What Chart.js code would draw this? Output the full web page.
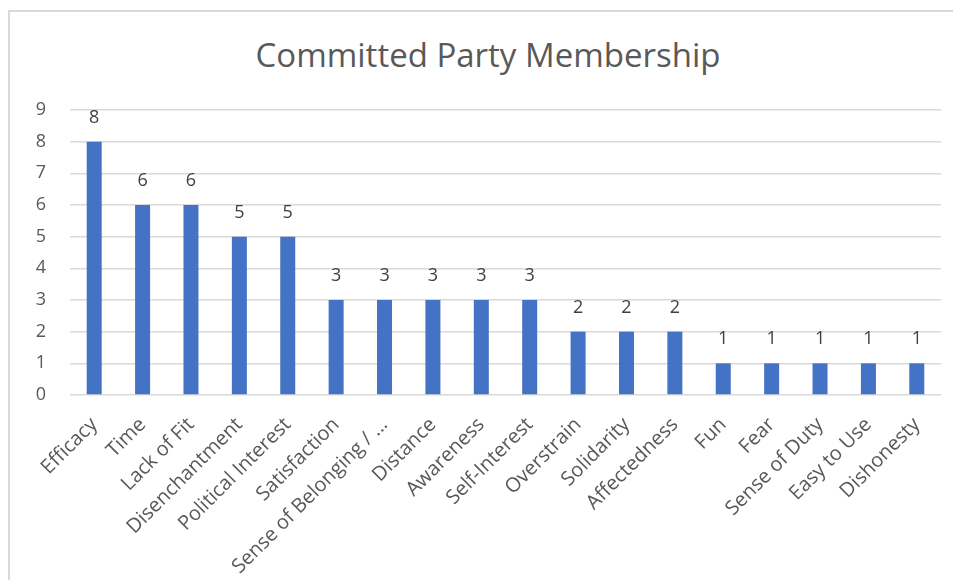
<!DOCTYPE html>
<html>
<head>
<meta charset="utf-8">
<script src="https://cdn.jsdelivr.net/npm/chart.js@4.4.1/dist/chart.umd.min.js"></script>
<style>
  html, body { margin: 0; padding: 0; background: #ffffff; }
  #wrap { position: relative; width: 953px; height: 580px; overflow: hidden; }
  #frame { position: absolute; left: 8px; top: 10px; width: 1000px; height: 700px;
           border-left: 2px solid #d9d9d9; border-top: 2px solid #d9d9d9; }
  #title { position: absolute; left: 188px; width: 600px; top: 35px; height: 40px;
           line-height: 40px; text-align: center; color: #595959;
           font-family: 'Open Sans', 'DejaVu Sans', sans-serif; font-size: 33px; }
  canvas { position: absolute; left: 0; top: 0; }
</style>
</head>
<body>
<div id="wrap">
  <div id="frame"></div>
  <div id="title">Committed Party Membership</div>
  <canvas id="c" width="953" height="580"></canvas>
</div>
<script>
// Reasons given for committed party membership, with the number of mentions
const categories = [
  "Efficacy", "Time", "Lack of Fit", "Disenchantment", "Political Interest",
  "Satisfaction", "Sense of Belonging / ...", "Distance", "Awareness", "Self-Interest",
  "Overstrain", "Solidarity", "Affectedness", "Fun", "Fear",
  "Sense of Duty", "Easy to Use", "Dishonesty"
];
const counts = [8, 6, 6, 5, 5, 3, 3, 3, 3, 3, 2, 2, 2, 1, 1, 1, 1, 1];
const yTicks = [0, 1, 2, 3, 4, 5, 6, 7, 8, 9];

const FONT = "'Open Sans', 'DejaVu Sans', sans-serif";
const TEXT = "#595959";

// Writes each bar's value just above its top
const valueLabels = {
  id: "valueLabels",
  afterDatasetsDraw(chart) {
    const ctx = chart.ctx;
    const meta = chart.getDatasetMeta(0);
    ctx.save();
    ctx.font = "18px " + FONT;
    ctx.fillStyle = "#404040";
    ctx.textAlign = "center";
    ctx.textBaseline = "bottom";
    meta.data.forEach((bar, i) => {
      ctx.fillText(String(counts[i]), bar.x, bar.y - 15);
    });
    ctx.restore();
  }
};

new Chart(document.getElementById("c"), {
  type: "bar",
  data: {
    labels: categories,
    datasets: [{
      data: counts,
      backgroundColor: "#4472C4",
      borderWidth: 0,
      barPercentage: 1,
      categoryPercentage: 0.31
    }]
  },
  options: {
    responsive: false,
    animation: false,
    layout: { padding: { left: 0, right: 12, top: 110, bottom: 0 } },
    plugins: {
      legend: { display: false },
      tooltip: { enabled: false },
      title: { display: false }
    },
    scales: {
      x: {
        grid: { display: false },
        border: { display: false },
        ticks: {
          color: TEXT,
          font: { family: FONT, size: 20 },
          minRotation: 45,
          maxRotation: 45,
          autoSkip: false,
          padding: 10
        },
        afterFit(scale) { scale.height = 185; }
      },
      y: {
        min: 0,
        max: 9,
        afterBuildTicks(scale) { scale.ticks = yTicks.map(v => ({ value: v })); },
        grid: { color: "#d9d9d9", lineWidth: 1.5, drawTicks: false },
        border: { display: false },
        ticks: {
          color: TEXT,
          font: { family: FONT, size: 18 },
          padding: 24
        },
        afterFit(scale) { scale.width = 70; }
      }
    }
  },
  plugins: [valueLabels]
});
</script>
</body>
</html>
